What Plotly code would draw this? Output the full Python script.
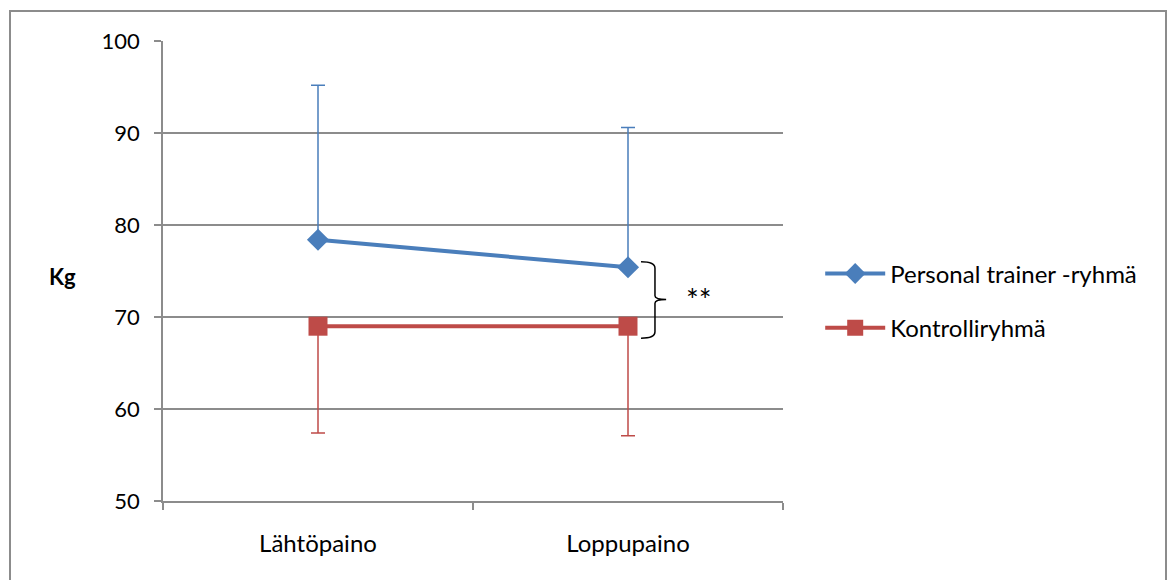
import plotly.graph_objects as go

categories = ["Lähtöpaino", "Loppupaino"]
pt_values = [78.4, 75.4]
pt_sd_plus = [16.8, 15.2]
ctrl_values = [69.0, 69.0]
ctrl_sd_minus = [11.6, 11.9]
y_ticks = [50, 60, 70, 80, 90, 100]

FONT = "Lato, Carlito, Calibri, sans-serif"
BLUE = "#4a7ebb"
RED = "#be4b48"
GRID = "#8c8c8c"

fig = go.Figure()

fig.add_trace(go.Scatter(
    x=categories, y=pt_values, name="Personal trainer -ryhmä",
    mode="lines+markers", legendgroup="pt",
    line=dict(color=BLUE, width=4),
    marker=dict(symbol="diamond", size=17, color=BLUE),
    error_y=dict(type="data", symmetric=False, array=pt_sd_plus,
                 arrayminus=[0, 0], color=BLUE, thickness=1.5, width=7),
))
fig.add_trace(go.Scatter(
    x=categories, y=ctrl_values, name="Kontrolliryhmä",
    mode="lines+markers", legendgroup="ctrl",
    line=dict(color=RED, width=4),
    marker=dict(symbol="square", size=19, color=RED),
    error_y=dict(type="data", symmetric=False, array=[0, 0],
                 arrayminus=ctrl_sd_minus, color=RED, thickness=1.5, width=7),
))

# significance bracket between the groups at the end point
xe = 1
top = pt_values[1] + 0.6
bot = ctrl_values[1] - 1.3
mid = 71.9
fig.add_shape(type="path", xref="x", yref="y",
              path=(f"M {xe + 0.042},{top} "
                    f"Q {xe + 0.087},{top} {xe + 0.087},{top - 0.7} "
                    f"L {xe + 0.087},{mid + 0.4} "
                    f"Q {xe + 0.087},{mid} {xe + 0.123},{mid} "
                    f"Q {xe + 0.087},{mid} {xe + 0.087},{mid - 0.4} "
                    f"L {xe + 0.087},{bot + 0.7} "
                    f"Q {xe + 0.087},{bot} {xe + 0.042},{bot}"),
              line=dict(color="black", width=1.5))
fig.add_annotation(x=xe + 0.23, y=mid + 0.1, xref="x", yref="y", text="**",
                   showarrow=False, font=dict(family=FONT, size=30, color="black"))

fig.add_annotation(x=(62 - 163) / 620, y=(501 - 276) / 460, xref="paper", yref="paper",
                   xanchor="center", yanchor="middle",
                   text="<b>Kg</b>", showarrow=False,
                   font=dict(family=FONT, size=22, color="black"))

# outer chart frame
fig.add_shape(type="rect", xref="paper", yref="paper",
              x0=-153 / 620, x1=1003 / 620, y0=-0.3, y1=30 / 460 + 1,
              line=dict(color="#8c8c8c", width=2), layer="below")

fig.update_layout(
    width=1168, height=580,
    margin=dict(l=163, r=385, t=41, b=79),
    paper_bgcolor="white", plot_bgcolor="white",
    font=dict(family=FONT, size=24, color="black"),
    showlegend=True,
    legend=dict(x=1.06, y=0.435, xanchor="left", yanchor="middle",
                font=dict(family=FONT, size=24), itemwidth=60,
                tracegroupgap=20, bgcolor="rgba(0,0,0,0)"),
    xaxis=dict(type="category", range=[-0.5, 1.5], tickson="boundaries",
               ticks="outside", ticklen=7, tickcolor=GRID, tickwidth=1.5,
               showline=True, linecolor=GRID, linewidth=1.5,
               showgrid=False, tickfont=dict(size=24), fixedrange=True,
               ticklabelstandoff=20),
    yaxis=dict(range=[50, 100], tickvals=y_ticks, ticks="outside", ticklen=7,
               tickcolor=GRID, tickwidth=1.5, showline=True, linecolor=GRID,
               linewidth=1.5, showgrid=True, gridcolor=GRID, gridwidth=1.5,
               zeroline=False, tickfont=dict(size=22), ticklabelstandoff=10),
)

fig.write_html("out.html")
